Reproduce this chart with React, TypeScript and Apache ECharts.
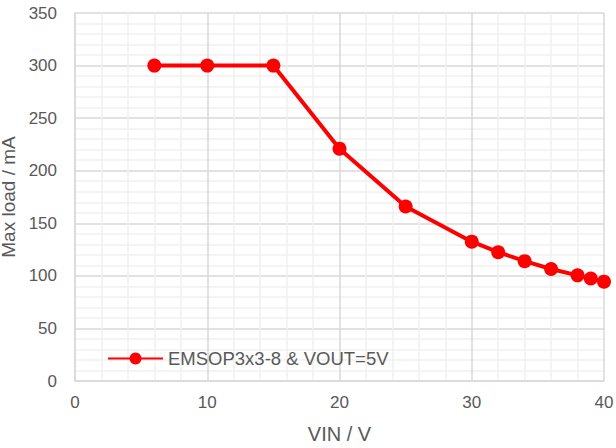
import React, { useEffect, useRef } from "react";
import * as echarts from "echarts";

const vin = [6, 10, 15, 20, 25, 30, 32, 34, 36, 38, 39, 40];
const maxLoad = [300, 300, 300, 221, 166, 132.5, 122.5, 114, 106.5, 100.5, 97.5, 94.5];
const seriesName = "EMSOP3x3-8 & VOUT=5V";

export default function App() {
  const ref = useRef<HTMLDivElement>(null);
  useEffect(() => {
    const chart = echarts.init(ref.current!, undefined, { renderer: "svg" });
    const font = "'Liberation Sans', Arial, sans-serif";
    chart.setOption({
      animation: false,
      textStyle: { fontFamily: font },
      grid: { left: 75, right: 12, top: 13, bottom: 67, outerBoundsMode: "none", containLabel: false },
      legend: {
        left: 102,
        top: 344,
        itemWidth: 55,
        itemHeight: 15,
        itemGap: 5,
        textStyle: { color: "#595959", fontSize: 18.5, fontFamily: font },
        data: [seriesName],
      },
      xAxis: {
        type: "value",
        min: 0,
        max: 40,
        interval: 10,
        name: "VIN / V",
        nameLocation: "middle",
        nameGap: 43,
        nameTextStyle: { color: "#595959", fontSize: 20, fontFamily: font },
        axisLine: { show: true, lineStyle: { color: "#d9d9d9", width: 1.5 } },
        axisTick: { show: false },
        axisLabel: { color: "#595959", fontSize: 17, margin: 13 },
        splitLine: { show: true, lineStyle: { color: "#d9d9d9", width: 1.5 } },
        minorTick: { show: false, splitNumber: 5 },
        minorSplitLine: { show: true, lineStyle: { color: "#f0f0f0", width: 1.5 } },
      },
      yAxis: {
        type: "value",
        min: 0,
        max: 350,
        interval: 50,
        name: "Max load / mA",
        nameLocation: "middle",
        nameGap: 48,
        nameTextStyle: { color: "#595959", fontSize: 19, fontFamily: font },
        axisLine: { show: true, lineStyle: { color: "#d9d9d9", width: 1.5 } },
        axisTick: { show: false },
        axisLabel: { color: "#595959", fontSize: 17, margin: 18 },
        splitLine: { show: true, lineStyle: { color: "#d9d9d9", width: 1.5 } },
        minorTick: { show: false, splitNumber: 5 },
        minorSplitLine: { show: true, lineStyle: { color: "#f0f0f0", width: 1.5 } },
      },
      series: [
        {
          name: seriesName,
          type: "line",
          data: vin.map((v, i) => [v, maxLoad[i]]),
          symbol: "circle",
          symbolSize: 14,
          itemStyle: { color: "#ff0000" },
          lineStyle: { color: "#ff0000", width: 4 },
        },
      ],
    });
    return () => chart.dispose();
  }, []);
  return <div ref={ref} style={{ width: 616, height: 448, position: "absolute", left: 0, top: 0 }} />;
}
